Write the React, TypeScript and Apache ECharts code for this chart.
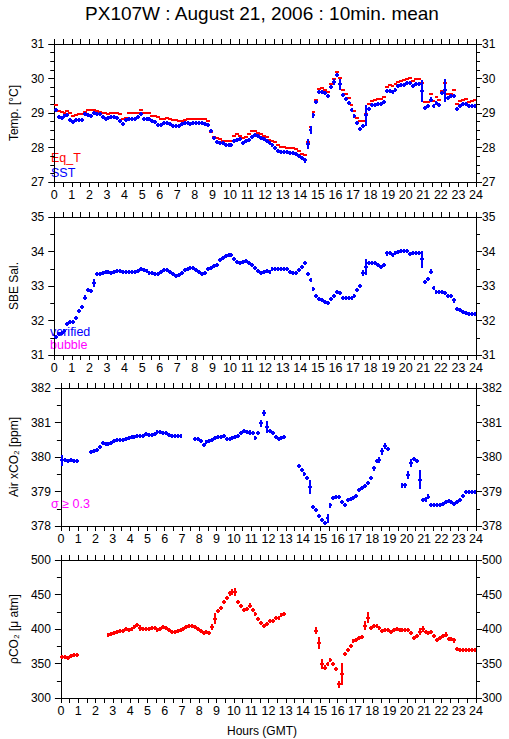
import React, { useEffect, useRef } from "react";
import * as echarts from "echarts";

const TITLE = "PX107W : August 21, 2006 : 10min. mean";
const X_NAME = "Hours (GMT)";
const HOUR_MIN = 0;
const HOUR_MAX = 24;
const HOUR_STEP = 1;

// 10-minute means, 144 per day (index i covers hour i/6 .. (i+1)/6)
const EQ_T = [
  29.24, 29.05, 29.03, 28.99, 29.05, 28.99,
  28.9, 28.95, 28.97, 28.97, 29.04, 29.08,
  29.09, 29.09, 29.07, 29.04, 29.0, 28.99,
  28.97, 29.0, 29.01, 29.01, 28.98, 28.82,
  28.86, 28.99, 28.99, 28.99, 28.99, 29.08,
  28.99, 28.99, 28.99, 28.92, 28.9, 28.88,
  28.84, 28.83, 28.85, 28.82, 28.8, 28.79,
  28.77, 28.76, 28.79, 28.83, 28.82, 28.82,
  28.83, 28.84, 28.84, 28.82, 28.78, 28.45,
  28.31, 28.27, 28.26, 28.2, 28.2, 28.18,
  28.2, 28.33, 28.38, 28.33, 28.27, 28.3,
  28.38, 28.49, 28.47, 28.42, 28.38, 28.33,
  28.3, 28.23, 28.2, 28.15, 28.06, 28.02,
  28.02, 28.0, 28.0, 27.98, 27.95, 27.9,
  27.82, 27.78, 28.15, 28.6, 29.04, 29.39,
  29.7, 29.72, 29.68, 29.6, 29.85, 30.0,
  30.2, 30.02, 29.68, 29.55, 29.44, 29.24,
  29.07, 28.86, 28.76, 28.76, 28.96, 29.27,
  29.34, 29.38, 29.41, 29.42, 29.45, 29.76,
  29.8, 29.78, 29.85, 29.9, 29.94, 29.97,
  30.0, 30.02, 29.92, 29.99, 29.99, 29.87,
  29.31, 29.33, 29.55, 29.34, 29.45, 29.39,
  29.63, 29.87, 29.55, 29.55, 29.66, 29.27,
  29.36, 29.39, 29.41, 29.33, 29.35, 29.37,
];

const SST = [
  29.1, 28.89, 28.85, 28.9, 28.93, 28.8,
  28.74, 28.81, 28.81, 28.81, 28.96, 28.93,
  28.9, 29.0, 28.97, 28.96, 28.88, 28.82,
  28.86, 28.89, 28.88, 28.86, 28.77, 28.68,
  28.8, 28.83, 28.84, 28.84, 28.89, 28.96,
  28.84, 28.84, 28.84, 28.77, 28.75, 28.65,
  28.65, 28.7, 28.7, 28.67, 28.63, 28.61,
  28.63, 28.68, 28.71, 28.7, 28.69, 28.71,
  28.71, 28.71, 28.71, 28.68, 28.64, 28.47,
  28.28, 28.17, 28.14, 28.12, 28.08, 28.06,
  28.06, 28.18, 28.22, 28.24, 28.14, 28.18,
  28.23, 28.3, 28.37, 28.34, 28.27, 28.24,
  28.2, 28.12, 28.06, 28.0, 27.9, 27.87,
  27.87, 27.86, 27.85, 27.85, 27.8, 27.75,
  27.7, 27.63, 28.1, 28.5, 28.93, 29.33,
  29.61, 29.61, 29.58, 29.5, 29.75, 29.9,
  30.09, 29.83, 29.52, 29.41, 29.29, 29.09,
  28.9, 28.71, 28.54, 28.62, 28.93, 29.12,
  29.24, 29.24, 29.26, 29.27, 29.32, 29.63,
  29.63, 29.61, 29.68, 29.77, 29.8, 29.82,
  29.87, 29.87, 29.78, 29.85, 29.85, 29.63,
  29.15, 29.2, 29.39, 29.2, 29.29, 29.23,
  29.58, 29.66, 29.44, 29.5, 29.5, 29.12,
  29.21, 29.26, 29.26, 29.21, 29.2, 29.2,
];
const SST_SD_DEFAULT = 0.03;
const SST_SD: [number, number][] = [
  [53, 0.05], [60, 0.04], [84, 0.04], [85, 0.08], [86, 0.15], [87, 0.12], [88, 0.08],
  [89, 0.06], [95, 0.08], [97, 0.15], [106, 0.3], [113, 0.06], [125, 0.32], [128, 0.07],
  [132, 0.07], [133, 0.33], [136, 0.06],
];

const SAL = [
  31.51, 31.61, 31.65, 31.71, 31.9, 31.95,
  31.97, 32.07, 32.27, 32.38, 32.66, 32.89,
  32.85, 33.08, 33.35, 33.35, 33.37, 33.4,
  33.4, 33.38, 33.42, 33.43, 33.43, 33.42,
  33.41, 33.41, 33.41, 33.41, 33.43, 33.48,
  33.45, 33.43, 33.39, 33.37, 33.35, 33.36,
  33.4, 33.45, 33.45, 33.41, 33.35, 33.3,
  33.33, 33.39, 33.45, 33.5, 33.53, 33.52,
  33.47, 33.4, 33.35, 33.37, 33.48, 33.53,
  33.57, 33.62, 33.76, 33.82, 33.88, 33.89,
  33.89, 33.78, 33.71, 33.68, 33.71, 33.72,
  33.66, 33.61, 33.53, 33.43, 33.39, 33.42,
  33.43, 33.42, 33.48, 33.48, 33.48, 33.48,
  33.49, 33.48, 33.41, 33.39, 33.39, 33.47,
  33.55, 33.67, 33.35, 33.16, 32.92, 32.72,
  32.63, 32.6, 32.55, 32.52, 32.63, 32.72,
  32.82, 32.79, 32.66, 32.66, 32.66, 32.66,
  32.72, 32.89, 33.01, 33.37, 33.55, 33.67,
  33.67, 33.66, 33.6, 33.55, 33.61, 33.95,
  33.95, 33.9, 33.96, 34.0, 34.01, 34.01,
  34.01, 33.93, 33.95, 33.96, 33.96, 33.77,
  33.13, 33.21, 33.42, 32.95, 32.82, 32.84,
  32.84, 32.8, 32.7, 32.7, 32.58, 32.34,
  32.29, 32.26, 32.22, 32.2, 32.2, 32.2,
];
const SAL_SD_DEFAULT = 0.02;
const SAL_SD: [number, number][] = [
  [4, 0.05], [9, 0.05], [10, 0.08], [13, 0.12], [85, 0.05], [86, 0.07], [88, 0.05],
  [97, 0.04], [103, 0.05], [104, 0.06], [105, 0.08], [106, 0.22], [113, 0.07],
  [125, 0.25], [127, 0.06], [128, 0.08], [136, 0.06],
];

const AIR_XCO2 = [
  379.9, 379.9, 379.89, 379.92, 379.87, 379.88,
  null, null, null, null, 380.14, 380.18,
  380.21, 380.28, 380.4, 380.37, 380.38, 380.42,
  380.47, 380.48, 380.48, 380.5, 380.52, 380.55,
  380.57, 380.58, 380.6, 380.6, 380.62, 380.66,
  380.64, 380.64, 380.67, 380.72, 380.72, 380.7,
  380.69, 380.64, 380.62, 380.6, 380.6, 380.61,
  null, null, null, null, 380.52, 380.52,
  380.45, 380.35, 380.43, 380.47, 380.48, 380.55,
  380.57, 380.58, 380.6, 380.53, 380.53, 380.55,
  380.58, 380.61, 380.69, 380.74, 380.72, 380.71,
  380.7, 380.55, 380.69, 380.98, 381.27, 380.87,
  380.74, 380.69, 380.58, 380.53, 380.55, 380.58,
  null, null, null, null, 379.74, 379.63,
  379.51, 379.4, 379.14, 378.56, 378.46, 378.3,
  378.17, 378.1, 378.22, 378.6, 378.82, 378.85,
  378.83, 378.69, 378.6, 378.75, 378.77, 378.8,
  378.87, 379.04, 379.09, 379.16, 379.24, 379.38,
  379.67, 379.89, 379.92, 380.16, 380.32, 380.23,
  null, null, null, null, 379.18, 379.18,
  379.48, 379.82, 379.94, 379.89, 379.34, 378.75,
  378.77, 378.85, 378.6, 378.6, 378.6, 378.6,
  378.65, 378.69, 378.72, 378.69, 378.65, 378.7,
  378.75, 378.87, 378.98, 378.98, 379.0, 378.98,
];
const AIR_SD_DEFAULT = 0.02;
const AIR_SD: [number, number][] = [
  [0, 0.17], [65, 0.06], [66, 0.06], [69, 0.1], [70, 0.08], [71, 0.17], [82, 0.06],
  [85, 0.05], [86, 0.2], [92, 0.13], [93, 0.07], [96, 0.04], [108, 0.08], [109, 0.06],
  [110, 0.08], [111, 0.1], [112, 0.1], [113, 0.07], [118, 0.07], [119, 0.07],
  [120, 0.12], [121, 0.12], [124, 0.28], [126, 0.06], [127, 0.08],
];

const PCO2 = [
  358.7, 358.7, 357.8, 361, 362.6, 362.6,
  null, null, null, null, null, null,
  null, null, null, null, 391.7, 393.2,
  394.2, 395.1, 396.6, 397.6, 400, 399,
  400, 402.9, 406.3, 401.5, 400, 400,
  400, 401, 401, 399, 400, 402.9,
  401.5, 399, 395.1, 395.1, 397.6, 399,
  400, 402.9, 403.9, 403.9, 402.9, 400,
  397.6, 394.2, 395.6, 394.5, 402.9, 414.6,
  425.7, 430.6, 438.8, 445.1, 451.5, 453.9,
  453.9, 439.3, 433, 428.2, 429.1, 434,
  428.2, 421.8, 414.6, 408.7, 404.9, 407.8,
  411.2, 412.1, 416, 416, 420.9, 422.3,
  null, null, null, null, null, null,
  null, null, null, null, 397.6, 379.6,
  349, 344.2, 349, 355.3, 349, 341.7,
  319.9, 335, 363.6, 370, 374.8, 382,
  384.5, 386.9, 388.3, 404.9, 416, 401,
  403.9, 403.9, 401, 397.6, 398.1, 398.1,
  396.1, 399, 400, 399, 399, 398.1,
  398.1, 394.2, 386.9, 390.3, 396.1, 400,
  396.1, 394.2, 396.1, 390.3, 384.5, 386.9,
  390.3, 391.7, 385.4, 385.4, 383.5, 370.9,
  370, 370, 370, 369, 369, 369,
];
const PCO2_SD_DEFAULT = 2;
const PCO2_SD: [number, number][] = [
  [26, 3], [27, 5], [52, 5], [53, 8], [58, 4], [59, 4], [60, 6], [61, 3], [65, 4],
  [88, 5], [89, 9], [90, 7], [91, 3], [96, 5], [97, 16], [105, 7], [106, 8],
  [124, 5], [125, 5], [133, 4], [136, 4],
];

const FONT = "'Liberation Sans', Arial, Helvetica, sans-serif";
const RED = "#ff0000";
const BLUE = "#0000ff";
const MAGENTA = "#ff00ff";

type SeriesDef = {
  name: string;
  values: (number | null)[];
  sdDefault: number;
  sd: [number, number][];
  color: string;
  minHalf: number;
};
type PanelDef = {
  name: string;
  min: number;
  max: number;
  interval: number;
  minorSplit: number;
  top: number;
  series: SeriesDef[];
};

const PANELS: PanelDef[] = [
  {
    name: "Temp. [°C]", min: 27, max: 31, interval: 1, minorSplit: 4, top: 44,
    series: [
      { name: "Eq_T", values: EQ_T, sdDefault: 0, sd: [], color: RED, minHalf: 0 },
      { name: "SST", values: SST, sdDefault: SST_SD_DEFAULT, sd: SST_SD, color: BLUE, minHalf: 2 },
    ],
  },
  {
    name: "SBE Sal.", min: 31, max: 35, interval: 1, minorSplit: 2, top: 217,
    series: [{ name: "verified", values: SAL, sdDefault: SAL_SD_DEFAULT, sd: SAL_SD, color: BLUE, minHalf: 2 }],
  },
  {
    name: "Air xCO₂ [ppm]", min: 378, max: 382, interval: 1, minorSplit: 2, top: 388,
    series: [{ name: "Air xCO2", values: AIR_XCO2, sdDefault: AIR_SD_DEFAULT, sd: AIR_SD, color: BLUE, minHalf: 2 }],
  },
  {
    name: "ρCO₂ [μ atm]", min: 300, max: 500, interval: 50, minorSplit: 2, top: 560,
    series: [{ name: "pCO2", values: PCO2, sdDefault: PCO2_SD_DEFAULT, sd: PCO2_SD, color: RED, minHalf: 2 }],
  },
];

const HALF_WIDTH_H = 0.11; // half length of the 10-min bar, hours

function buildData(s: SeriesDef) {
  const sdMap = new Map<number, number>(s.sd);
  const out: number[][] = [];
  s.values.forEach((v, i) => {
    if (v === null || v === undefined) return;
    const t = (i + 0.5) / 6;
    out.push([t, v, sdMap.has(i) ? (sdMap.get(i) as number) : s.sdDefault]);
  });
  return out;
}

function makeRender(color: string, minHalf: number) {
  return (_params: any, api: any) => {
    const t = api.value(0);
    const v = api.value(1);
    const sd = api.value(2);
    const a = api.coord([t - HALF_WIDTH_H, v]);
    const b = api.coord([t + HALF_WIDTH_H, v]);
    const c = api.coord([t, v]);
    const up = api.coord([t, v + sd]);
    const dn = api.coord([t, v - sd]);
    const y = Math.round(c[1]);
    const x = Math.round(c[0]);
    const children: any[] = [
      {
        type: "line",
        shape: { x1: Math.round(a[0]), y1: y, x2: Math.round(b[0]), y2: y },
        style: { stroke: color, lineWidth: 2 },
      },
    ];
    if (sd > 0 || minHalf > 0) {
      const half = Math.max(Math.abs(dn[1] - up[1]) / 2, minHalf);
      children.push({
        type: "line",
        shape: { x1: x, y1: Math.round(c[1] - half), x2: x, y2: Math.round(c[1] + half) },
        style: { stroke: color, lineWidth: 2 },
      });
    }
    return { type: "group", children };
  };
}

export default function App() {
  const ref = useRef<HTMLDivElement>(null);
  useEffect(() => {
    if (!ref.current) return;
    const chart = echarts.init(ref.current, undefined, { renderer: "svg" });
    const grids: any[] = [];
    const xAxes: any[] = [];
    const yAxes: any[] = [];
    const series: any[] = [];
    const lineStyle = { color: "#000", width: 1 };
    PANELS.forEach((p, pi) => {
      grids.push({ left: 48, width: 428, top: p.top, height: 138 });
      ["bottom", "top"].forEach((pos) => {
        xAxes.push({
          type: "value", gridIndex: pi, position: pos, min: HOUR_MIN, max: HOUR_MAX, interval: HOUR_STEP,
          axisLine: { show: true, onZero: false, lineStyle },
          axisTick: { show: true, length: 5, lineStyle },
          minorTick: { show: true, splitNumber: 2, length: 5, lineStyle },
          splitLine: { show: false },
          axisLabel: { show: pos === "bottom", fontSize: 12.5, color: "#000", fontFamily: FONT, margin: 6 },
        });
      });
      ["left", "right"].forEach((pos) => {
        yAxes.push({
          type: "value", gridIndex: pi, position: pos, min: p.min, max: p.max, interval: p.interval,
          axisLine: { show: true, onZero: false, lineStyle },
          axisTick: { show: true, length: 6, lineStyle },
          minorTick: { show: true, splitNumber: p.minorSplit, length: 4, lineStyle },
          splitLine: { show: false },
          axisLabel: { fontSize: 12, color: "#000", fontFamily: FONT, margin: pos === "left" ? 10 : 6 },
          name: pos === "left" ? p.name : "",
          nameLocation: "middle",
          nameRotate: 90,
          nameGap: 31,
          nameTextStyle: { fontSize: 12, color: "#000", fontFamily: FONT },
        });
      });
      p.series.forEach((s) => {
        series.push({
          type: "custom",
          name: s.name,
          xAxisIndex: pi * 2,
          yAxisIndex: pi * 2,
          clip: true,
          renderItem: makeRender(s.color, s.minHalf),
          data: buildData(s),
        });
      });
    });

    const txt = (text: string, x: number, y: number, fill: string, size = 12.5, align = "left") => ({
      type: "text", x, y, silent: true,
      style: { text, fill, fontSize: size, fontFamily: FONT, align, verticalAlign: "middle" },
    });

    chart.setOption({
      animation: false,
      backgroundColor: "#fff",
      grid: grids,
      xAxis: xAxes,
      yAxis: yAxes,
      series,
      graphic: [
        txt(TITLE, 262, 13, "#000", 19, "center"),
        txt("Eq_T", 51, 158, RED),
        txt("SST", 51, 173, BLUE),
        txt("verified", 50, 332, BLUE),
        txt("bubble", 50, 345, MAGENTA),
        txt("σ ≥ 0.3", 51, 504, MAGENTA),
        txt(X_NAME, 262, 731, "#000", 12, "center"),
      ],
    });
    return () => chart.dispose();
  }, []);
  return <div ref={ref} style={{ position: "absolute", left: 0, top: 0, width: 509, height: 739 }} />;
}
